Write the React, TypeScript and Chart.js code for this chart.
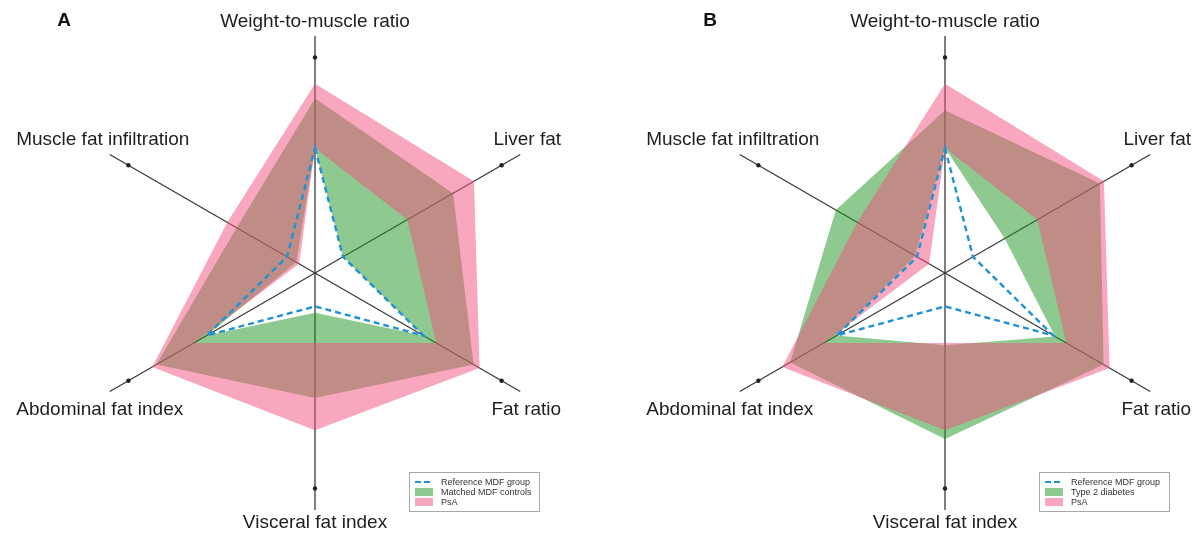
import React, { useEffect, useRef } from 'react';
import { Chart, registerables } from 'chart.js';

Chart.register(...registerables);

// ---------- data ----------
const categories = [
  'Weight-to-muscle ratio',
  'Liver fat',
  'Fat ratio',
  'Visceral fat index',
  'Abdominal fat index',
  'Muscle fat infiltration',
];
const axisMarkers = [1, 1, 1, 1, 1, 1];
const referenceMDF = [0.58, 0.15, 0.58, 0.155, 0.58, 0.15];

const matchedLow = [0.58, 0.15, 0.58, 0.185, 0.58, 0.1];
const matchedHigh = [0.81, 0.74, 0.85, 0.58, 0.85, 0.42];

const t2dLow = [0.58, 0.32, 0.59, 0.335, 0.58, 0.16];
const t2dHigh = [0.755, 0.83, 0.85, 0.77, 0.83, 0.585];

const psaLow = [0.58, 0.495, 0.65, 0.325, 0.65, 0.085];
const psaHigh = [0.878, 0.852, 0.882, 0.73, 0.872, 0.47];

const legendNames = ['Reference MDF group', 'Matched MDF controls', 'Type 2 diabetes', 'PsA'];

// ---------- styles ----------
const BLUE = '#1f93d6';
const GREEN = 'rgba(30,148,32,0.5)';
const PINK = 'rgba(241,80,125,0.5)';
const LABEL_DX = [0, 7, 6, 0, -10, -7];
const LABEL_DY = [-14, -14.5, 18.5, 13, 18.5, -14.5];
const FONT = '"Liberation Sans", Arial, sans-serif';

function decorPlugin(letter: string, letterX: number, groupName: string) {
  return {
    id: 'decor',
    afterDraw(chart: any) {
      const scale = chart.scales.r;
      const ctx = chart.ctx;
      ctx.save();
      ctx.fillStyle = '#1e1e1e';
      ctx.textAlign = 'center';
      ctx.textBaseline = 'middle';
      ctx.font = '19px ' + FONT;
      (chart.data.labels as string[]).forEach((lab, i) => {
        const p = scale.getPointPositionForValue(i, scale.max);
        ctx.fillText(lab, p.x + LABEL_DX[i], p.y + LABEL_DY[i]);
      });
      ctx.font = 'bold 19px ' + FONT;
      ctx.fillStyle = '#111';
      ctx.fillText(letter, letterX, 21);

      // legend
      const bx = scale.xCenter + 94;
      const by = 472;
      const bw = 130;
      const bh = 39;
      ctx.fillStyle = '#fff';
      ctx.fillRect(bx, by, bw, bh);
      ctx.strokeStyle = '#a8a8a8';
      ctx.lineWidth = 1;
      ctx.strokeRect(bx + 0.5, by + 0.5, bw, bh);
      const rows = [legendNames[0], groupName, legendNames[3]];
      ctx.textAlign = 'left';
      ctx.font = '9px ' + FONT;
      rows.forEach((t, i) => {
        const cy = by + 10 + i * 10;
        if (i === 0) {
          ctx.strokeStyle = BLUE;
          ctx.lineWidth = 2.2;
          ctx.setLineDash([6, 3]);
          ctx.beginPath();
          ctx.moveTo(bx + 6, cy);
          ctx.lineTo(bx + 24, cy);
          ctx.stroke();
          ctx.setLineDash([]);
        } else {
          ctx.fillStyle = i === 1 ? GREEN : PINK;
          ctx.fillRect(bx + 6, cy - 4, 18, 8);
        }
        ctx.fillStyle = '#333';
        ctx.fillText(t, bx + 32, cy + 0.5);
      });
      ctx.restore();
    },
  };
}

interface PanelProps {
  left: number;
  padLeft: number;
  padRight: number;
  letter: string;
  letterX: number;
  groupName: string;
  groupLow: number[];
  groupHigh: number[];
}

function RadarPanel(props: PanelProps) {
  const ref = useRef<HTMLCanvasElement>(null);
  useEffect(() => {
    const line0 = { borderWidth: 0, borderColor: 'rgba(0,0,0,0)', pointRadius: 0 };
    const chart = new Chart(ref.current as HTMLCanvasElement, {
      type: 'radar',
      data: {
        labels: categories,
        datasets: [
          {
            label: 'markers',
            data: axisMarkers,
            borderWidth: 0,
            borderColor: 'rgba(0,0,0,0)',
            pointRadius: 2.2,
            pointBorderWidth: 0,
            pointBackgroundColor: '#222',
            fill: false,
          },
          {
            label: legendNames[0],
            data: referenceMDF,
            borderColor: BLUE,
            borderWidth: 2.4,
            borderDash: [6, 4],
            pointRadius: 0,
            fill: false,
            backgroundColor: 'rgba(0,0,0,0)',
          },
          { label: 'PsA high', data: psaHigh, ...line0, backgroundColor: PINK, fill: '+1' },
          { label: 'PsA low', data: psaLow, ...line0, fill: false },
          { label: props.groupName + ' high', data: props.groupHigh, ...line0, backgroundColor: GREEN, fill: '+1' },
          { label: props.groupName + ' low', data: props.groupLow, ...line0, fill: false },
        ] as any,
      },
      options: {
        animation: false,
        responsive: false,
        events: [],
        layout: { padding: { left: props.padLeft, right: props.padRight, top: 36, bottom: 27 } },
        plugins: { legend: { display: false }, tooltip: { enabled: false } },
        scales: {
          r: {
            min: 0,
            max: 1.1,
            grid: { display: false },
            angleLines: { display: true, color: '#3a3a3a', lineWidth: 1.3 },
            ticks: { display: false },
            pointLabels: { display: false },
            z: 1,
          },
        },
      } as any,
      plugins: [decorPlugin(props.letter, props.letterX, props.groupName)],
    });
    return () => chart.destroy();
  }, []);
  return (
    <canvas
      ref={ref}
      width={599}
      height={537}
      style={{ position: 'absolute', left: props.left, top: 0, width: 599, height: 537 }}
    />
  );
}

export default function App() {
  return (
    <div style={{ position: 'absolute', left: 0, top: 0, width: 1198, height: 537, background: '#fff' }}>
      <RadarPanel
        left={0}
        padLeft={78}
        padRight={47}
        letter="A"
        letterX={64}
        groupName={legendNames[1]}
        groupLow={matchedLow}
        groupHigh={matchedHigh}
      />
      <RadarPanel
        left={599}
        padLeft={109}
        padRight={16}
        letter="B"
        letterX={111}
        groupName={legendNames[2]}
        groupLow={t2dLow}
        groupHigh={t2dHigh}
      />
    </div>
  );
}
